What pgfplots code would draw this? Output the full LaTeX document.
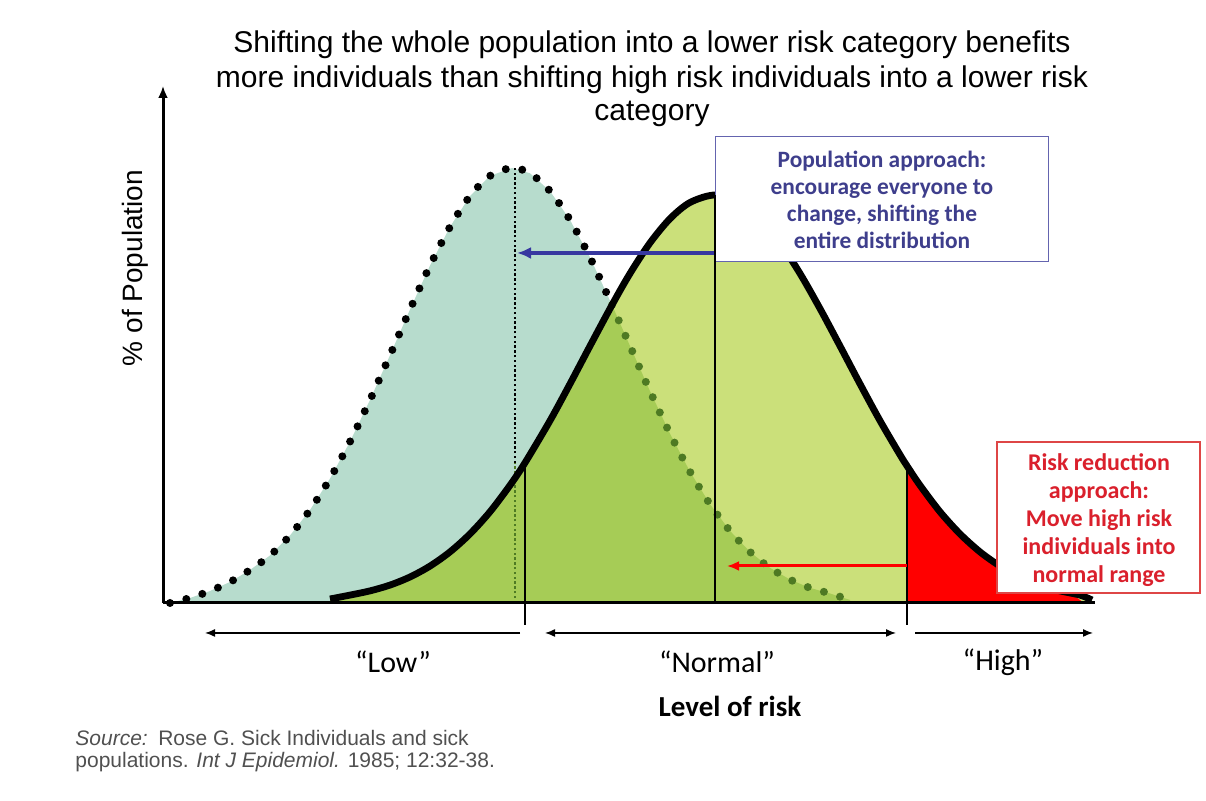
\documentclass[border=0pt]{standalone}
\usepackage{pgfplots}
\pgfplotsset{compat=1.18}
\usepackage{fontspec}
\setmainfont{Liberation Sans}
\newfontfamily\calibri{Carlito}
\usetikzlibrary{arrows.meta}
\definecolor{tealfill}{RGB}{183,220,205}
\definecolor{lightgreen}{RGB}{203,224,122}
\definecolor{midgreen}{RGB}{166,204,86}
\definecolor{dotgreen}{RGB}{78,122,35}
\definecolor{bluetext}{RGB}{62,62,140}
\definecolor{blueborder}{RGB}{100,100,175}
\definecolor{redtext}{RGB}{218,32,44}
\definecolor{redborder}{RGB}{222,70,70}
\definecolor{bluearrow}{RGB}{55,55,160}
\definecolor{srcgray}{RGB}{80,80,80}
\begin{document}
\begin{tikzpicture}
\begin{axis}[
  scale only axis, width=603pt, height=400.5pt,
  xmin=0, xmax=1206, ymin=-198, ymax=603,
  hide axis, clip=false]
\path (axis cs:0,-198) -- (axis cs:1206,603);
% shifted (dotted) distribution fill
\addplot[fill=tealfill, draw=none] coordinates {
(170,0) (190,5) (210,12) (230,21) (250,33) (270,47.5) (290,67.5) (310,93) (330,124.4) (350,161.3) (370,203) (390,247.8) (410,293.5) (430,337.4) (450,376.1) (470,406.9) (490,427.1) (512,435) (530,429.7) (550,411.9) (570,383.1) (590,345.6) (612,298)
(630,257) (650,211.8) (670,169.3) (690,131.3) (710,98.8) (730,72.1) (750,51.1) (770,35.1) (790,23.4) (810,15.1) (830,9.5) (850,3) (850,0)} \closedcycle;
% original (solid) distribution fill
\addplot[fill=lightgreen, draw=none] coordinates {
(330,0) (330,4) (350,7.9) (370,12.1) (390,17.9) (410,26) (430,36.9) (450,51.1) (470,69.1) (490,91.2) (510,117.7) (525,140.2) (550,182.3) (570,219.1) (590,257) (612,298) (630,329.5) (650,360.1) (670,384.3) (690,400.5) (715,408) (740,400.5) (760,384.3) (780,360.1) (800,329.5) (820,294.4) (840,257) (860,219.1) (880,182.3) (900,148.2) (907,137.1) (920,117.7) (940,91.2) (960,69.1) (980,51.1) (1000,36.9) (1020,26) (1040,17.9) (1060,12.1) (1080,7.9) (1092,3) (1092,0)} \closedcycle;
% overlap
\addplot[fill=midgreen, draw=none] coordinates {
(330,0) (330,4) (350,7.9) (370,12.1) (390,17.9) (410,26) (430,36.9) (450,51.1) (470,69.1) (490,91.2) (510,117.7) (525,140.2) (550,182.3) (570,219.1) (590,257) (612,298)
(630,257) (650,211.8) (670,169.3) (690,131.3) (710,98.8) (730,72.1) (750,51.1) (770,35.1) (790,23.4) (810,15.1) (830,9.5) (850,3) (850,0)} \closedcycle;
% high-risk tail
\addplot[fill=red, draw=none] coordinates {
(907,0) (907,137.1) (920,117.7) (940,91.2) (960,69.1) (980,51.1) (1000,36.9) (1020,26) (1040,17.9) (1060,12.1) (1076,6) (1084,0)} \closedcycle;
% dotted curve
\addplot[black, line width=4pt, line cap=round, dash pattern=on 0pt off 8.4pt, smooth] coordinates {
(170,0) (190,5) (210,12) (230,21) (250,33) (270,47.5) (290,67.5) (310,93) (330,124.4) (350,161.3) (370,203) (390,247.8) (410,293.5) (430,337.4) (450,376.1) (470,406.9) (490,427.1) (512,435) (530,429.7) (550,411.9) (570,383.1) (590,345.6) (612,298)};
\addplot[dotgreen, line width=4pt, line cap=round, dash pattern=on 0pt off 8.4pt, smooth] coordinates {
(612,298) (630,257) (650,211.8) (670,169.3) (690,131.3) (710,98.8) (730,72.1) (750,51.1) (770,35.1) (790,23.4) (810,15.1) (830,9.5) (850,3)};
% vertical reference lines
\addplot[black, line width=0.6pt, dash pattern=on 1.2pt off 1.2pt] coordinates {(515,140) (515,435)};
\addplot[dotgreen, line width=0.6pt, dash pattern=on 1.2pt off 1.2pt] coordinates {(515,0) (515,140)};
\addplot[black, line width=1pt] coordinates {(525,-22) (525,140)};
\addplot[black, line width=1pt] coordinates {(715,0) (715,408)};
\addplot[black, line width=1pt] coordinates {(907,-22) (907,137)};
% solid curve
\addplot[black, line width=3.4pt, smooth] coordinates {
(330,4) (350,7.9) (370,12.1) (390,17.9) (410,26) (430,36.9) (450,51.1) (470,69.1) (490,91.2) (510,117.7) (525,140.2) (550,182.3) (570,219.1) (590,257) (612,298) (630,329.5) (650,360.1) (670,384.3) (690,400.5) (715,408) (740,400.5) (760,384.3) (780,360.1) (800,329.5) (820,294.4) (840,257) (860,219.1) (880,182.3) (900,148.2) (907,137.1) (920,117.7) (940,91.2) (960,69.1) (980,51.1) (1000,36.9) (1020,26) (1040,17.9) (1060,12.1) (1080,7.9) (1092,3)};
% axes
\draw[black, line width=1.5pt] (axis cs:163,0) -- (axis cs:1095,0);
\draw[black, line width=1.5pt, -{Latex[length=6pt,width=5pt]}] (axis cs:163,0) -- (axis cs:163,517);
% shift arrows
\draw[bluearrow, line width=2.2pt, -{Latex[length=7pt,width=6pt]}] (axis cs:715,350) -- (axis cs:517,350);
\draw[red, line width=1.5pt, -{Latex[length=6pt,width=5pt]}] (axis cs:907,37) -- (axis cs:727,37);
% range arrows
\draw[black, line width=0.7pt, -{Latex[length=5pt,width=4pt]}] (axis cs:520,-30) -- (axis cs:205,-30);
\draw[black, line width=0.7pt, {Latex[length=5pt,width=4pt]}-{Latex[length=5pt,width=4pt]}] (axis cs:545,-30) -- (axis cs:896,-30);
\draw[black, line width=0.7pt, -{Latex[length=5pt,width=4pt]}] (axis cs:915,-30) -- (axis cs:1093,-30);
% boxes
\draw[blueborder, line width=0.5pt, fill=white] (axis cs:715,466) rectangle (axis cs:1048,341);
\draw[black, line width=1pt] (axis cs:715,408) -- (axis cs:715,341);
\draw[redborder, line width=0.6pt, fill=white] (axis cs:997,161) rectangle (axis cs:1200,10);
\node[bluetext, align=center, font=\calibri\bfseries\fontsize{11.7}{13.6}\selectfont, anchor=center] at (axis cs:882,403) {Population approach:\\encourage everyone to\\change, shifting the\\entire distribution};
\node[redtext, align=center, font=\calibri\bfseries\fontsize{12}{14}\selectfont, anchor=center] at (axis cs:1099,83) {Risk reduction\\approach:\\Move high risk\\individuals into\\normal range};
% title
\node[anchor=base, font=\fontsize{15}{17}\selectfont] at (axis cs:652,550) {Shifting the whole population into a lower risk category benefits};
\node[anchor=base, font=\fontsize{15}{17}\selectfont] at (axis cs:652,515) {more individuals than shifting high risk individuals into a lower risk};
\node[anchor=base, font=\fontsize{15}{17}\selectfont] at (axis cs:652,482) {category};
% axis labels
\node[rotate=90, font=\fontsize{14}{16}\selectfont] at (axis cs:135,335) {\% of Population};
\node[font=\calibri\fontsize{15}{17}\selectfont] at (axis cs:393,-59) {“Low”};
\node[font=\calibri\fontsize{15}{17}\selectfont] at (axis cs:717,-59) {“Normal”};
\node[font=\calibri\fontsize{15}{17}\selectfont] at (axis cs:1003,-59) {“High”};
\node[font=\calibri\bfseries\fontsize{14.5}{16}\selectfont] at (axis cs:730,-103) {Level of risk};
% source
\node[anchor=base west, inner sep=0pt, srcgray, font=\fontsize{10.5}{12}\selectfont] at (axis cs:75,-143) {\textit{Source:}\enspace Rose G. Sick Individuals and sick};
\node[anchor=base west, inner sep=0pt, srcgray, font=\fontsize{10.5}{12}\selectfont] at (axis cs:75,-165) {populations. \textit{Int J Epidemiol.} 1985; 12:32-38.};
\end{axis}
\end{tikzpicture}
\end{document}
